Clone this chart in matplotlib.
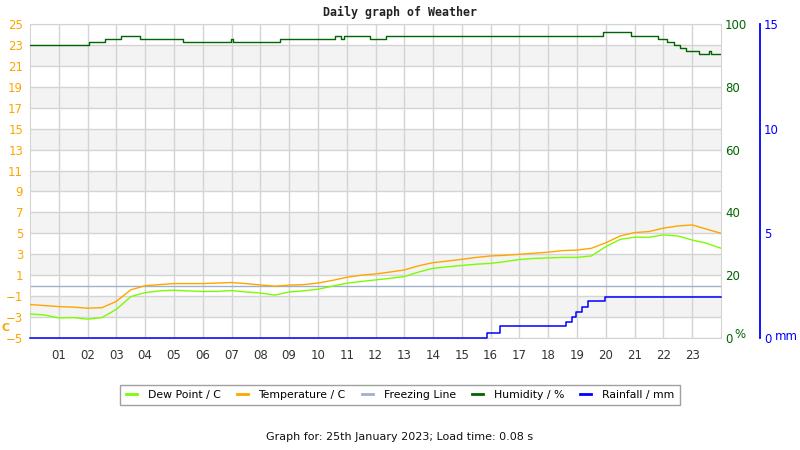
import matplotlib
matplotlib.use("Agg")
import matplotlib.pyplot as plt
from matplotlib.lines import Line2D

# half-hourly readings of the day
hours = [i * 0.5 for i in range(49)]
temperature = [-1.8, -1.9, -2.0, -2.05, -2.15, -2.1, -1.5, -0.4, 0.0, 0.1,
               0.2, 0.2, 0.2, 0.25, 0.3, 0.2, 0.07, -0.05, 0.05, 0.1,
               0.25, 0.5, 0.8, 1.0, 1.12, 1.3, 1.5, 1.9, 2.2, 2.35,
               2.52, 2.7, 2.84, 2.9, 3.0, 3.1, 3.2, 3.35, 3.4, 3.57,
               4.1, 4.75, 5.07, 5.17, 5.5, 5.7, 5.8, 5.4, 5.0]
dew_point = [-2.7, -2.8, -3.08, -3.05, -3.2, -3.05, -2.26, -1.05, -0.66, -0.5,
             -0.43, -0.5, -0.56, -0.55, -0.47, -0.6, -0.7, -0.9, -0.6, -0.5,
             -0.34, -0.05, 0.23, 0.4, 0.55, 0.7, 0.87, 1.3, 1.66, 1.8,
             1.93, 2.05, 2.13, 2.3, 2.5, 2.6, 2.65, 2.7, 2.7, 2.84,
             3.73, 4.43, 4.63, 4.63, 4.85, 4.75, 4.36, 4.05, 3.57]

# humidity steps (hour where value starts)
hum_hours = [0, 2.06, 2.59, 3.16, 3.82, 3.92, 5.31, 6.98, 7.06, 8.68, 10.59,
             10.8, 10.9, 11.39, 11.8, 12.36, 19.91, 20.89, 21.82, 22.14,
             22.36, 22.59, 22.8, 23.24, 23.58, 23.65, 24]
humidity = [93.2, 94.2, 95.1, 96.1, 95.1, 95.1, 94.2, 95.1, 94.2, 95.1, 96.1,
            95.1, 96.1, 96.1, 95.1, 96.1, 97.4, 96.1, 95.1, 94.2,
            93.2, 92.3, 91.4, 90.4, 91.4, 90.4, 90.4]

# rainfall steps
rain_hours = [0, 15.88, 16.32, 18.6, 18.81, 18.98, 19.18, 19.39, 19.97, 24]
rainfall = [0, 0.25, 0.55, 0.75, 1.0, 1.25, 1.5, 1.75, 1.95, 1.95]

hour_labels = ["%02d" % h for h in range(1, 24)]
temp_ticks = list(range(-5, 26, 2))
hum_ticks = [0, 20, 40, 60, 80, 100]
rain_ticks = [0, 5, 10, 15]

c_temp = "#ffa500"
c_dew = "#7cfc00"
c_freeze = "#a0b0c8"
c_hum = "#006400"
c_rain = "#0000ff"
c_grid = "#d4d4d4"

fig = plt.figure(figsize=(8, 4.5), dpi=100)
ax = fig.add_axes([30 / 800, 1 - 338 / 450, 691 / 800, 314 / 450])

# alternating bands
for lo in range(-3, 25, 4):
    ax.axhspan(lo, lo + 2, color="#f3f3f3", zorder=0, lw=0)
for t in temp_ticks:
    ax.axhline(t, color=c_grid, lw=1, zorder=1)
for h in range(1, 24):
    ax.axvline(h, color=c_grid, lw=1, zorder=1)

ax.plot(hours, dew_point, color=c_dew, lw=1, zorder=3)
ax.plot(hours, temperature, color=c_temp, lw=1, zorder=3)
ax.axhline(0, color=c_freeze, lw=1, zorder=2)

ax.set_xlim(0, 24)
ax.set_ylim(-5, 25)
ax.set_yticks(temp_ticks)
ax.set_xticks(range(1, 24))
ax.set_xticklabels(hour_labels)
ax.tick_params(axis="y", length=0, labelsize=8.5, labelcolor=c_temp, pad=5)
ax.tick_params(axis="x", length=0, labelsize=8.5, labelcolor="#333333", pad=8)
for s in ax.spines.values():
    s.set_color(c_grid)

ax_h = ax.twinx()
ax_h.step(hum_hours, humidity, where="post", color=c_hum, lw=1)
ax_h.set_ylim(0, 100)
ax_h.set_yticks(hum_ticks)
ax_h.tick_params(axis="y", length=0, labelsize=8.5, labelcolor=c_hum, pad=3)
for s in ax_h.spines.values():
    s.set_visible(False)

ax_r = ax.twinx()
ax_r.step(rain_hours, rainfall, where="post", color=c_rain, lw=1.1, clip_on=False)
ax_r.set_ylim(0, 15)
ax_r.set_yticks(rain_ticks)
ax_r.tick_params(axis="y", length=0, labelsize=8.5, labelcolor=c_rain, pad=3)
for s in ax_r.spines.values():
    s.set_visible(False)
ax_r.spines["right"].set_visible(True)
ax_r.spines["right"].set_position(("axes", (760 - 30) / 691))
ax_r.spines["right"].set_color(c_rain)
ax_r.spines["right"].set_linewidth(1.3)

fig.text(1 / 800, 1 - 328 / 450, "C", color=c_temp, fontsize=8, fontweight="bold",
         va="center", ha="left")
fig.text(734 / 800, 1 - 335 / 450, "%", color=c_hum, fontsize=8.5, va="center", ha="left")
fig.text(775 / 800, 1 - 336 / 450, "mm", color=c_rain, fontsize=8.5, va="center", ha="left")

fig.text(0.5, 1 - 12 / 450, "Daily graph of Weather", family="DejaVu Sans Mono",
         fontweight="bold", fontsize=8.4, ha="center", va="center", color="#222222")

handles = [Line2D([], [], color=c_dew, lw=2),
           Line2D([], [], color=c_temp, lw=2),
           Line2D([], [], color=c_freeze, lw=2),
           Line2D([], [], color=c_hum, lw=2),
           Line2D([], [], color=c_rain, lw=2)]
names = ["Dew Point / C", "Temperature / C", "Freezing Line", "Humidity / %", "Rainfall / mm"]
leg = fig.legend(handles, names, loc="center", bbox_to_anchor=(0.5, 1 - 395 / 450),
                 ncol=5, fontsize=7.8, frameon=True, fancybox=False, handlelength=1,
                 handletextpad=1.0, columnspacing=1.5, borderpad=0.5)
leg.get_frame().set_edgecolor("#888888")
leg.get_frame().set_linewidth(1)

fig.text(0.5, 1 - 437 / 450, "Graph for: 25th January 2023; Load time: 0.08 s",
         fontsize=8, ha="center", va="center", color="#111111")

fig.savefig("out.png", dpi=100)
